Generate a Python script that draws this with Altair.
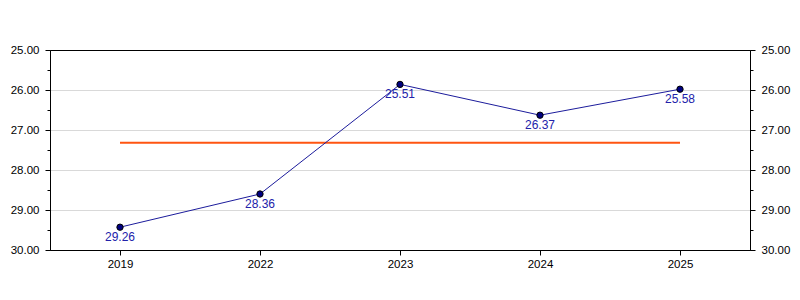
import altair as alt
import pandas as pd

years = ["2019", "2022", "2023", "2024", "2025"]
values = [29.43, 28.60, 25.86, 26.63, 25.98]
labels = ["29.26", "28.36", "25.51", "26.37", "25.58"]
reference = 27.32

major_ticks = [25, 26, 27, 28, 29, 30]
minor_ticks = [25.5, 26.5, 27.5, 28.5, 29.5]

df = pd.DataFrame({"year": years, "value": values, "label": labels})
ref_df = pd.DataFrame({"start": [years[0]], "end": [years[-1]], "value": [reference]})

FONT = "Liberation Sans"

yscale = alt.Scale(domain=[25, 30], reverse=True, nice=False, zero=False)

x_axis = alt.Axis(title=None, labelFont=FONT, labelFontSize=11.5, labelColor="black",
                  domainColor="black", tickColor="black", tickSize=5, labelPadding=3,
                  grid=False, labelAngle=0)
xenc = alt.X("year:N", sort=years, scale=alt.Scale(type="point", padding=0.5), axis=x_axis)

grid_color = {"condition": {"test": "datum.value === 25 || datum.value === 30", "value": "black"},
              "value": "#d9d9d9"}


def yaxis(orient, vals, labels_on, grid, tick):
    kw = dict(title=None, orient=orient, values=vals, labels=labels_on, grid=grid,
              tickSize=tick, tickColor="black", domainColor="black",
              labelFont=FONT, labelFontSize=11.5, labelColor="black", labelPadding=6,
              format=".2f")
    if grid:
        kw["gridColor"] = grid_color
    return alt.Axis(**kw)


base = alt.Chart(df)

line = base.mark_line(color="#1c1c9c", strokeWidth=1).encode(
    x=xenc,
    y=alt.Y("value:Q", scale=yscale, axis=yaxis("left", major_ticks, True, True, 5)),
)

points = base.mark_point(filled=True, fill="#000080", stroke="black", strokeWidth=1,
                         size=40, opacity=1, shape="circle").encode(
    x=xenc,
    y=alt.Y("value:Q", scale=yscale, axis=yaxis("right", major_ticks, True, False, 5)),
)

texts = base.mark_text(color="#2222aa", font=FONT, fontSize=12, dy=10,
                       baseline="middle", align="center").encode(
    x=xenc,
    y=alt.Y("value:Q", scale=yscale, axis=yaxis("left", minor_ticks, False, False, 3)),
    text="label:N",
)

ref = alt.Chart(ref_df).mark_rule(color="#ff5511", strokeWidth=2).encode(
    x=alt.X("start:N", sort=years, scale=alt.Scale(type="point", padding=0.5), axis=x_axis),
    x2="end:N",
    y=alt.Y("value:Q", scale=yscale, axis=yaxis("right", minor_ticks, False, False, 3)),
)

chart = alt.layer(ref, line, points, texts).resolve_axis(y="independent").properties(
    width=700, height=200,
    autosize=alt.AutoSizeParams(type="none"),
    padding={"left": 50, "top": 50, "right": 50, "bottom": 50},
).configure_view(stroke="black", strokeWidth=1).configure(background="white")

chart.save("out.html", embed_options={"renderer": "svg", "actions": False})
